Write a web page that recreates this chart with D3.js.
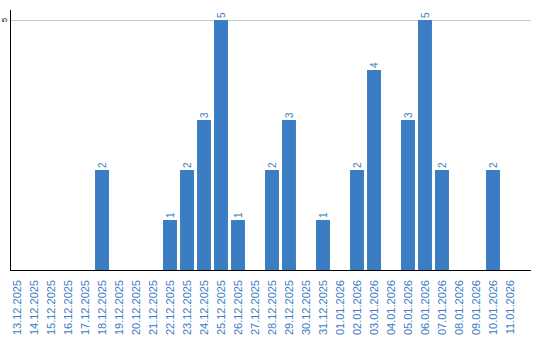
<!DOCTYPE html>
<html>
<head>
<meta charset="utf-8">
<script src="https://cdn.jsdelivr.net/npm/d3@7"></script>
<style>
  body { margin: 0; background: #fff; }
  svg { display: block; font-family: "Liberation Sans", Arial, sans-serif; }
</style>
</head>
<body>
<svg id="chart" width="540" height="340"></svg>
<script>
// dates shown on the x axis, one bar per day
var dates = [
    "13.12.2025", "14.12.2025", "15.12.2025", "16.12.2025", "17.12.2025",
    "18.12.2025", "19.12.2025", "20.12.2025", "21.12.2025", "22.12.2025",
    "23.12.2025", "24.12.2025", "25.12.2025", "26.12.2025", "27.12.2025",
    "28.12.2025", "29.12.2025", "30.12.2025", "31.12.2025", "01.01.2026",
    "02.01.2026", "03.01.2026", "04.01.2026", "05.01.2026", "06.01.2026",
    "07.01.2026", "08.01.2026", "09.01.2026", "10.01.2026", "11.01.2026"
];
var counts = [
    0, 0, 0, 0, 0,
    2, 0, 0, 0, 1,
    2, 3, 5, 1, 0,
    2, 3, 0, 1, 0,
    2, 4, 0, 3, 5,
    2, 0, 0, 2, 0
];
var yTicks = [5];

var data = dates.map(function (d, i) { return [d, counts[i]]; });

var svg = d3.select("#chart");
var blue = "#3b7dc3";

var xScale = d3.scaleBand()
    .domain(dates)
    .range([8.5, 518.5])
    .paddingInner(0.18)
    .paddingOuter(0.09);

var yScale = d3.scaleLinear()
    .domain([0, 5])
    .range([270, 20]);

// gridline
svg.selectAll("line.grid").data(yTicks).enter()
    .append("line")
    .attr("class", "grid")
    .attr("x1", 11).attr("x2", 531)
    .attr("y1", function (d) { return yScale(d) + 0.5; })
    .attr("y2", function (d) { return yScale(d) + 0.5; })
    .attr("stroke", "#c8c8c8")
    .attr("stroke-width", 1);

// bars
var bar = svg.selectAll("g.bar").data(data.filter(function (d) { return d[1] > 0; })).enter()
    .append("g")
    .attr("class", "bar");

bar.append("rect")
    .attr("x", function (d) { return xScale(d[0]); })
    .attr("y", function (d) { return yScale(d[1]); })
    .attr("width", xScale.bandwidth())
    .attr("height", function (d) { return yScale(0) - yScale(d[1]); })
    .attr("fill", blue);

bar.append("text")
    .attr("transform", function (d) {
        return "translate(" + (xScale(d[0]) + xScale.bandwidth() / 2 + 3.5) + "," + (yScale(d[1]) - 2) + ") rotate(-90)";
    })
    .attr("font-size", "10px")
    .attr("fill", blue)
    .text(function (d) { return d[1]; });

// y axis
svg.append("line")
    .attr("x1", 10.5).attr("x2", 10.5)
    .attr("y1", 10).attr("y2", 270)
    .attr("stroke", "#000");

svg.selectAll("text.ytick").data(yTicks).enter()
    .append("text")
    .attr("class", "ytick")
    .attr("transform", function (d) { return "translate(7," + yScale(d) + ") rotate(-90)"; })
    .attr("text-anchor", "middle")
    .attr("font-size", "8px")
    .attr("fill", "#000")
    .text(function (d) { return d; });

// x axis
svg.append("line")
    .attr("x1", 10).attr("x2", 531)
    .attr("y1", 270.5).attr("y2", 270.5)
    .attr("stroke", "#000");

svg.selectAll("text.xlabel").data(dates).enter()
    .append("text")
    .attr("class", "xlabel")
    .attr("transform", function (d) {
        return "translate(" + (xScale(d) + xScale.bandwidth() / 2 + 4) + ",280) rotate(-90)";
    })
    .attr("text-anchor", "end")
    .attr("font-size", "11px")
    .attr("fill", blue)
    .text(function (d) { return d; });
</script>
</body>
</html>
